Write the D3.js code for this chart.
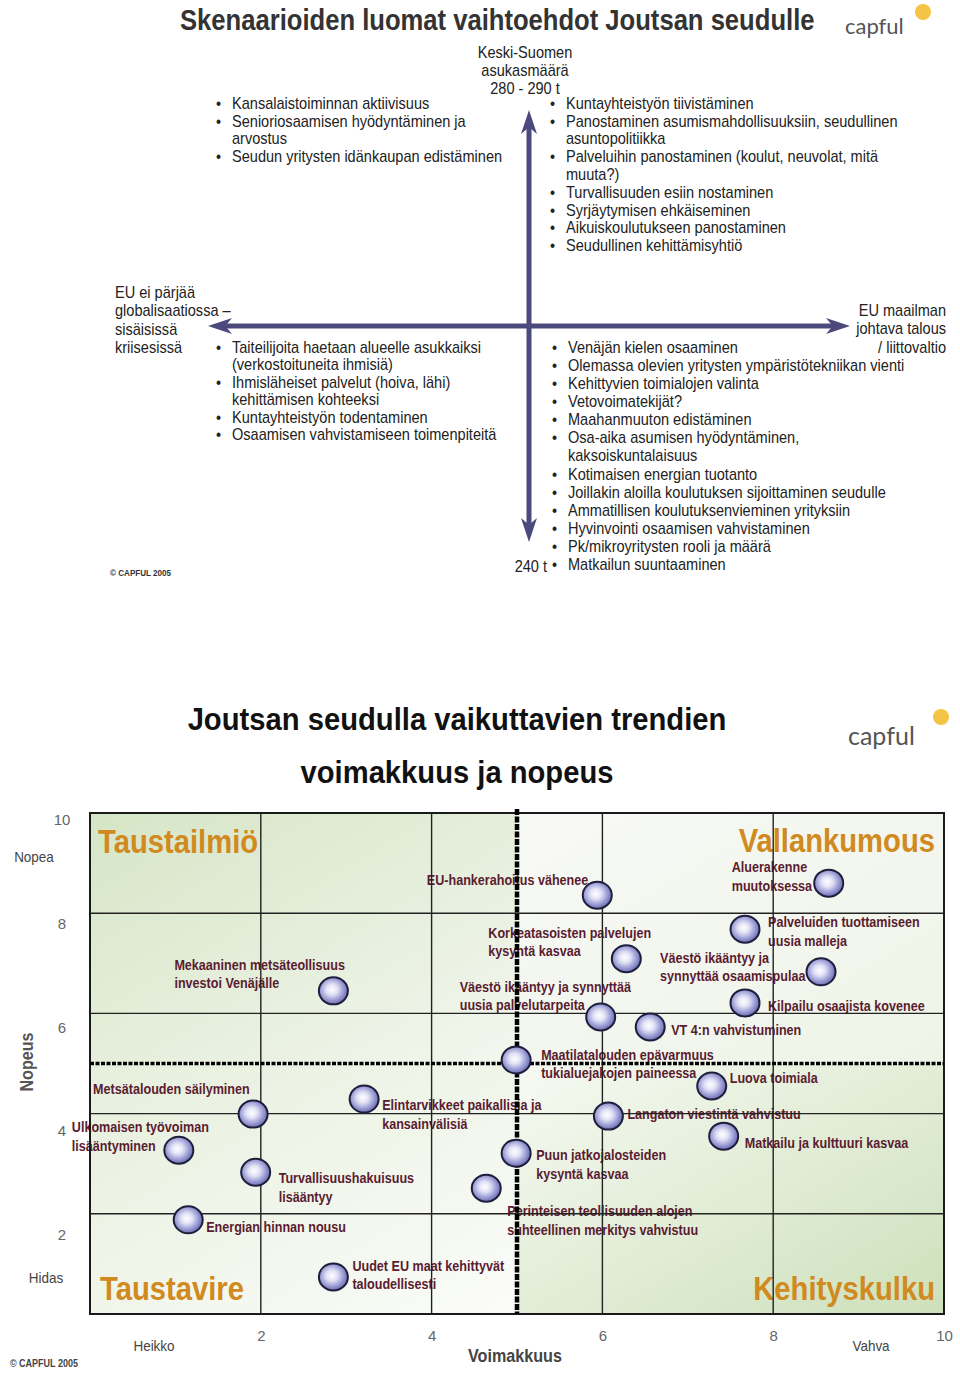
<!DOCTYPE html>
<html><head><meta charset="utf-8">
<script src="https://cdn.jsdelivr.net/npm/d3@7"></script>
<style>body{margin:0;background:#fff}svg{display:block}</style>
</head><body>
<svg id="c" width="960" height="1375"></svg>
<script>
// ---------------- DATA ----------------
const scenarioTitle = "Skenaarioiden luomat vaihtoehdot Joutsan seudulle";
const upLabel = ["Keski-Suomen", "asukasmäärä", "280 - 290 t"];
const downLabel = "240 t";
const leftLabel = ["EU ei pärjää", "globalisaatiossa –", "sisäisissä", "kriisesissä"];
const rightLabel = ["EU maailman", "johtava talous", "/ liittovaltio"];
const listTopLeft = [
  ["Kansalaistoiminnan aktiivisuus"],
  ["Senioriosaamisen hyödyntäminen ja", "arvostus"],
  ["Seudun yritysten idänkaupan edistäminen"]
];
const listTopRight = [
  ["Kuntayhteistyön tiivistäminen"],
  ["Panostaminen asumismahdollisuuksiin, seudullinen", "asuntopolitiikka"],
  ["Palveluihin panostaminen (koulut, neuvolat, mitä", "muuta?)"],
  ["Turvallisuuden esiin nostaminen"],
  ["Syrjäytymisen ehkäiseminen"],
  ["Aikuiskoulutukseen panostaminen"],
  ["Seudullinen kehittämisyhtiö"]
];
const listBottomLeft = [
  ["Taiteilijoita haetaan alueelle asukkaiksi", "(verkostoituneita ihmisiä)"],
  ["Ihmisläheiset palvelut (hoiva, lähi)", "kehittämisen kohteeksi"],
  ["Kuntayhteistyön todentaminen"],
  ["Osaamisen vahvistamiseen toimenpiteitä"]
];
const listBottomRight = [
  ["Venäjän kielen osaaminen"],
  ["Olemassa olevien yritysten ympäristötekniikan vienti"],
  ["Kehittyvien toimialojen valinta"],
  ["Vetovoimatekijät?"],
  ["Maahanmuuton edistäminen"],
  ["Osa-aika asumisen hyödyntäminen,", "kaksoiskuntalaisuus"],
  ["Kotimaisen energian tuotanto"],
  ["Joillakin aloilla koulutuksen sijoittaminen seudulle"],
  ["Ammatillisen koulutuksenvieminen yrityksiin"],
  ["Hyvinvointi osaamisen vahvistaminen"],
  ["Pk/mikroyritysten rooli ja määrä"],
  ["Matkailun suuntaaminen"]
];
const copyright = "© CAPFUL 2005";
const logoText = "capful";

const chartTitle = ["Joutsan seudulla vaikuttavien trendien", "voimakkuus ja nopeus"];
const quadrantNames = ["Taustailmiö", "Vallankumous", "Taustavire", "Kehityskulku"];
const xTicks = [2, 4, 6, 8, 10];
const yTicks = [2, 4, 6, 8, 10];
const xAxisTitle = "Voimakkuus";
const yAxisTitle = "Nopeus";
const xEnds = ["Heikko", "Vahva"];
const yEnds = ["Hidas", "Nopea"];

const trendNames = [
  ["EU-hankerahoitus vähenee"],
  ["Aluerakenne", "muutoksessa"],
  ["Palveluiden tuottamiseen", "uusia malleja"],
  ["Korkeatasoisten palvelujen", "kysyntä kasvaa"],
  ["Väestö ikääntyy ja", "synnyttää osaamispulaa"],
  ["Väestö ikääntyy ja synnyttää", "uusia palvelutarpeita"],
  ["Kilpailu osaajista kovenee"],
  ["VT 4:n vahvistuminen"],
  ["Mekaaninen metsäteollisuus", "investoi Venäjälle"],
  ["Maatilatalouden epävarmuus", "tukialuejakojen paineessa"],
  ["Luova toimiala"],
  ["Langaton viestintä vahvistuu"],
  ["Matkailu ja kulttuuri kasvaa"],
  ["Puun jatkojalosteiden", "kysyntä kasvaa"],
  ["Perinteisen teollisuuden alojen", "suhteellinen merkitys vahvistuu"],
  ["Elintarvikkeet paikallisia ja", "kansainvälisiä"],
  ["Metsätalouden säilyminen"],
  ["Ulkomaisen työvoiman", "lisääntyminen"],
  ["Turvallisuushakuisuus", "lisääntyy"],
  ["Energian hinnan nousu"],
  ["Uudet EU maat kehittyvät", "taloudellisesti"]
];
const strength = [5.94, 8.65, 7.67, 6.28, 8.56, 5.98, 7.67, 6.56, 2.85, 4.99, 7.28, 6.07, 7.42, 4.99, 4.64, 3.21, 1.91, 1.04, 1.94, 1.15, 2.85];
const speed    = [8.36, 8.60, 7.68, 7.09, 6.83, 5.93, 6.21, 5.73, 6.45, 5.07, 4.55, 3.95, 3.55, 3.21, 2.51, 4.29, 3.99, 3.27, 2.83, 1.88, 0.74];

// ---------------- LAYOUT (label offsets relative to bubble, px) ----------------
const labelOffsets = [
  [-9, -10, "end"], [-97, -11, "start"], [23, -2, "start"], [-138, -21, "start"],
  [-161, -9, "start"], [-141, -25, "start"], [23, 8, "start"], [21, 8, "start"],
  [-159, -21, "start"], [25, 0, "start"], [18, -3, "start"], [19, 3, "start"],
  [21, 12, "start"], [20, 7, "start"], [21, 28, "start"], [18, 11, "start"],
  [-160, -20, "start"], [-107, -18, "start"], [23, 11, "start"], [18, 12, "start"],
  [19, -6, "start"]
];

// ---------------- DRAW ----------------
const FONT = "'Liberation Sans', Arial, Helvetica, sans-serif";
const svg = d3.select("#c");
const defs = svg.append("defs");

function addText(parent, x, y, lines, o) {
  const t = parent.append("text")
    .attr("transform", `translate(${x},${y}) scale(${o.sx || 1},1)`)
    .attr("font-family", o.family || FONT)
    .attr("font-size", o.size)
    .attr("font-weight", o.weight || "normal")
    .attr("fill", o.fill || "#222")
    .attr("text-anchor", o.anchor || "start");
  lines.forEach((l, i) => {
    t.append("tspan").attr("x", 0).attr("y", i * (o.lh || o.size * 1.15)).text(l);
  });
  return t;
}
// single line text squeezed horizontally to a target width
function fitText(parent, x, y, str, width, o) {
  const t = addText(parent, x, y, [str], o);
  const w = t.node().getComputedTextLength();
  t.attr("transform", `translate(${x},${y}) scale(${width / w},1)`);
  return t;
}

function logo(x, y, size, bx, by, br) {
  const g = svg.append("g");
  g.append("circle").attr("cx", bx).attr("cy", by).attr("r", br).attr("fill", "#f5c445");
  addText(g, x, y, [logoText], {size: size, fill: "#555", family: "Lato, 'Open Sans', sans-serif"});
}

// ===== TOP DIAGRAM =====
const topG = svg.append("g");
fitText(topG, 180, 30, scenarioTitle, 635, {size: 30, weight: "bold", fill: "#333"});
logo(845, 34, 22, 923, 12, 8);

const AX = "#4c4a7c";
function stealth(tx, ty, dx, dy, L, W) {
  const px = -dy, py = dx;
  const bx = tx - dx * L, by = ty - dy * L;
  const nx = tx - dx * L * 0.72, ny = ty - dy * L * 0.72;
  return `M${tx},${ty}L${bx + px * W},${by + py * W}L${nx},${ny}L${bx - px * W},${by - py * W}Z`;
}
topG.append("line").attr("x1", 529).attr("x2", 529).attr("y1", 126).attr("y2", 526)
  .attr("stroke", AX).attr("stroke-width", 5);
topG.append("path").attr("d", stealth(529, 110, 0, -1, 24, 8)).attr("fill", AX);
topG.append("path").attr("d", stealth(529, 542, 0, 1, 24, 8)).attr("fill", AX);
topG.append("line").attr("x1", 224).attr("x2", 834).attr("y1", 326).attr("y2", 326)
  .attr("stroke", AX).attr("stroke-width", 5);
topG.append("path").attr("d", stealth(208, 326, -1, 0, 24, 8)).attr("fill", AX);
topG.append("path").attr("d", stealth(850, 326, 1, 0, 24, 8)).attr("fill", AX);

const TS = 16, TSX = 0.91;
addText(topG, 525, 58, upLabel, {size: TS, sx: TSX, anchor: "middle", lh: 18});
addText(topG, 547, 572, [downLabel], {size: TS, sx: TSX, anchor: "end"});
addText(topG, 115, 298, leftLabel, {size: TS, sx: TSX, lh: 18.3});
addText(topG, 946, 316, rightLabel, {size: TS, sx: TSX, anchor: "end", lh: 18.4});

function drawList(items, bx, tx, y0, lh) {
  let row = 0;
  items.forEach(item => {
    addText(topG, bx, y0 + row * lh, ["•"], {size: TS, sx: TSX});
    addText(topG, tx, y0 + row * lh, item, {size: TS, sx: TSX, lh: lh});
    row += item.length;
  });
}
drawList(listTopLeft, 216, 232, 109, 17.7);
drawList(listTopRight, 550, 566, 109, 17.75);
drawList(listBottomLeft, 216, 232, 353, 17.4);
drawList(listBottomRight, 552, 568, 353, 18.08);
addText(topG, 110, 576, [copyright], {size: 9, weight: "bold", fill: "#333", sx: 0.9});

// ===== BOTTOM CHART =====
const x = d3.scaleLinear().domain([0, 10]).range([90, 944]);
const y = d3.scaleLinear().domain([0, 10]).range([1314, 813]);
const yLab = d3.scaleLinear().domain([0, 10]).range([1338, 820]);

fitText(svg, 457, 730, chartTitle[0], 539, {size: 32, weight: "bold", fill: "#111", anchor: "middle"});
fitText(svg, 457, 783, chartTitle[1], 313, {size: 32, weight: "bold", fill: "#111", anchor: "middle"});
logo(848, 745, 25, 941, 717, 8);

const grads = [
  ["gTL", "#d6e5c6", "#f3f7ef"],
  ["gTR", "#f8f9f6", "#eef4e7"],
  ["gBL", "#e6efdc", "#fbfcf9"],
  ["gBR", "#f7faf3", "#cde0bb"]
];
grads.forEach(([id, c0, c1]) => {
  const lg = defs.append("linearGradient").attr("id", id).attr("x1", 0).attr("y1", 0).attr("x2", 1).attr("y2", 1);
  lg.append("stop").attr("offset", "0%").attr("stop-color", c0);
  lg.append("stop").attr("offset", "100%").attr("stop-color", c1);
});
const quads = [
  [0, 5, 5, 10, "gTL"], [5, 10, 5, 10, "gTR"], [0, 5, 0, 5, "gBL"], [5, 10, 0, 5, "gBR"]
];
const plot = svg.append("g");
plot.selectAll("rect.q").data(quads).join("rect").attr("class", "q")
  .attr("x", d => x(d[0])).attr("width", d => x(d[1]) - x(d[0]))
  .attr("y", d => y(d[3])).attr("height", d => y(d[2]) - y(d[3]))
  .attr("fill", d => `url(#${d[4]})`);

const QC = "#d08a20";
const qPos = [
  [x(0) + 8, y(10) + 40, "start"], [x(10) - 9, y(10) + 39, "end"],
  [x(0) + 10, y(0) - 14, "start"], [x(10) - 9, y(0) - 14, "end"]
];
quadrantNames.forEach((n, i) => {
  addText(plot, qPos[i][0], qPos[i][1], [n], {size: 33, weight: "bold", fill: QC, sx: 0.885, anchor: qPos[i][2]});
});

trendNames.forEach((lines, i) => {
  const o = labelOffsets[i];
  addText(plot, x(strength[i]) + o[0], y(speed[i]) + o[1], lines,
    {size: 14, weight: "bold", fill: "#5a1c30", sx: 0.9, lh: 18.5, anchor: o[2]});
});

const inner = [2, 4, 6, 8];
plot.selectAll("line.gv").data(inner).join("line").attr("class", "gv")
  .attr("x1", d => x(d)).attr("x2", d => x(d)).attr("y1", y(10)).attr("y2", y(0))
  .attr("stroke", "#222").attr("stroke-width", 1.4);
plot.selectAll("line.gh").data(inner).join("line").attr("class", "gh")
  .attr("y1", d => y(d)).attr("y2", d => y(d)).attr("x1", x(0)).attr("x2", x(10))
  .attr("stroke", "#222").attr("stroke-width", 1.4);
plot.append("rect").attr("x", x(0)).attr("y", y(10)).attr("width", x(10) - x(0)).attr("height", y(0) - y(10))
  .attr("fill", "none").attr("stroke", "#1a1a1a").attr("stroke-width", 2);

plot.append("line").attr("x1", x(5)).attr("x2", x(5)).attr("y1", y(10) - 4).attr("y2", y(0))
  .attr("stroke", "#000").attr("stroke-width", 4.5).attr("stroke-dasharray", "6,1.5");
plot.append("line").attr("x1", x(0)).attr("x2", x(10)).attr("y1", y(5)).attr("y2", y(5))
  .attr("stroke", "#000").attr("stroke-width", 3.5).attr("stroke-dasharray", "4,1.5");

const rg = defs.append("radialGradient").attr("id", "bub").attr("cx", "45%").attr("cy", "45%").attr("r", "55%");
[["0%", "#ffffff"], ["35%", "#e2e2f6"], ["75%", "#9698d2"], ["100%", "#6e70b0"]]
  .forEach(([o, c]) => rg.append("stop").attr("offset", o).attr("stop-color", c));
plot.selectAll("ellipse.b").data(trendNames).join("ellipse").attr("class", "b")
  .attr("cx", (d, i) => x(strength[i])).attr("cy", (d, i) => y(speed[i]))
  .attr("rx", 14.5).attr("ry", 13.5).attr("fill", "url(#bub)")
  .attr("stroke", "#1e1e3c").attr("stroke-width", 2);

const xa = svg.append("g").attr("transform", `translate(0,${y(0)})`)
  .call(d3.axisBottom(x).tickValues(xTicks).tickSize(0).tickPadding(16).tickFormat(d3.format("d")));
xa.select(".domain").remove();
xa.selectAll("text").attr("font-family", FONT).attr("font-size", 15).attr("fill", "#666");
const ya = svg.append("g").attr("transform", `translate(62,0)`)
  .call(d3.axisLeft(yLab).tickValues(yTicks).tickSize(0).tickPadding(0).tickFormat(d3.format("d")));
ya.select(".domain").remove();
ya.selectAll("text").attr("font-family", FONT).attr("font-size", 15).attr("fill", "#666").attr("text-anchor", "middle");

addText(svg, 34, 862, [yEnds[1]], {size: 15, fill: "#444", anchor: "middle", sx: 0.9});
addText(svg, 46, 1283, [yEnds[0]], {size: 15, fill: "#444", anchor: "middle", sx: 0.9});
addText(svg, 154, 1351, [xEnds[0]], {size: 15, fill: "#444", anchor: "middle", sx: 0.9});
addText(svg, 871, 1351, [xEnds[1]], {size: 15, fill: "#444", anchor: "middle", sx: 0.9});
addText(svg, 515, 1362, [xAxisTitle], {size: 19, weight: "bold", fill: "#444", anchor: "middle", sx: 0.85});
svg.append("text").attr("transform", "translate(33,1062) rotate(-90) scale(0.85,1)")
  .attr("font-family", FONT).attr("font-size", 19).attr("font-weight", "bold").attr("fill", "#555")
  .attr("text-anchor", "middle").text(yAxisTitle);
addText(svg, 10, 1367, [copyright], {size: 10, weight: "bold", fill: "#444", sx: 0.9});
</script>
</body></html>
